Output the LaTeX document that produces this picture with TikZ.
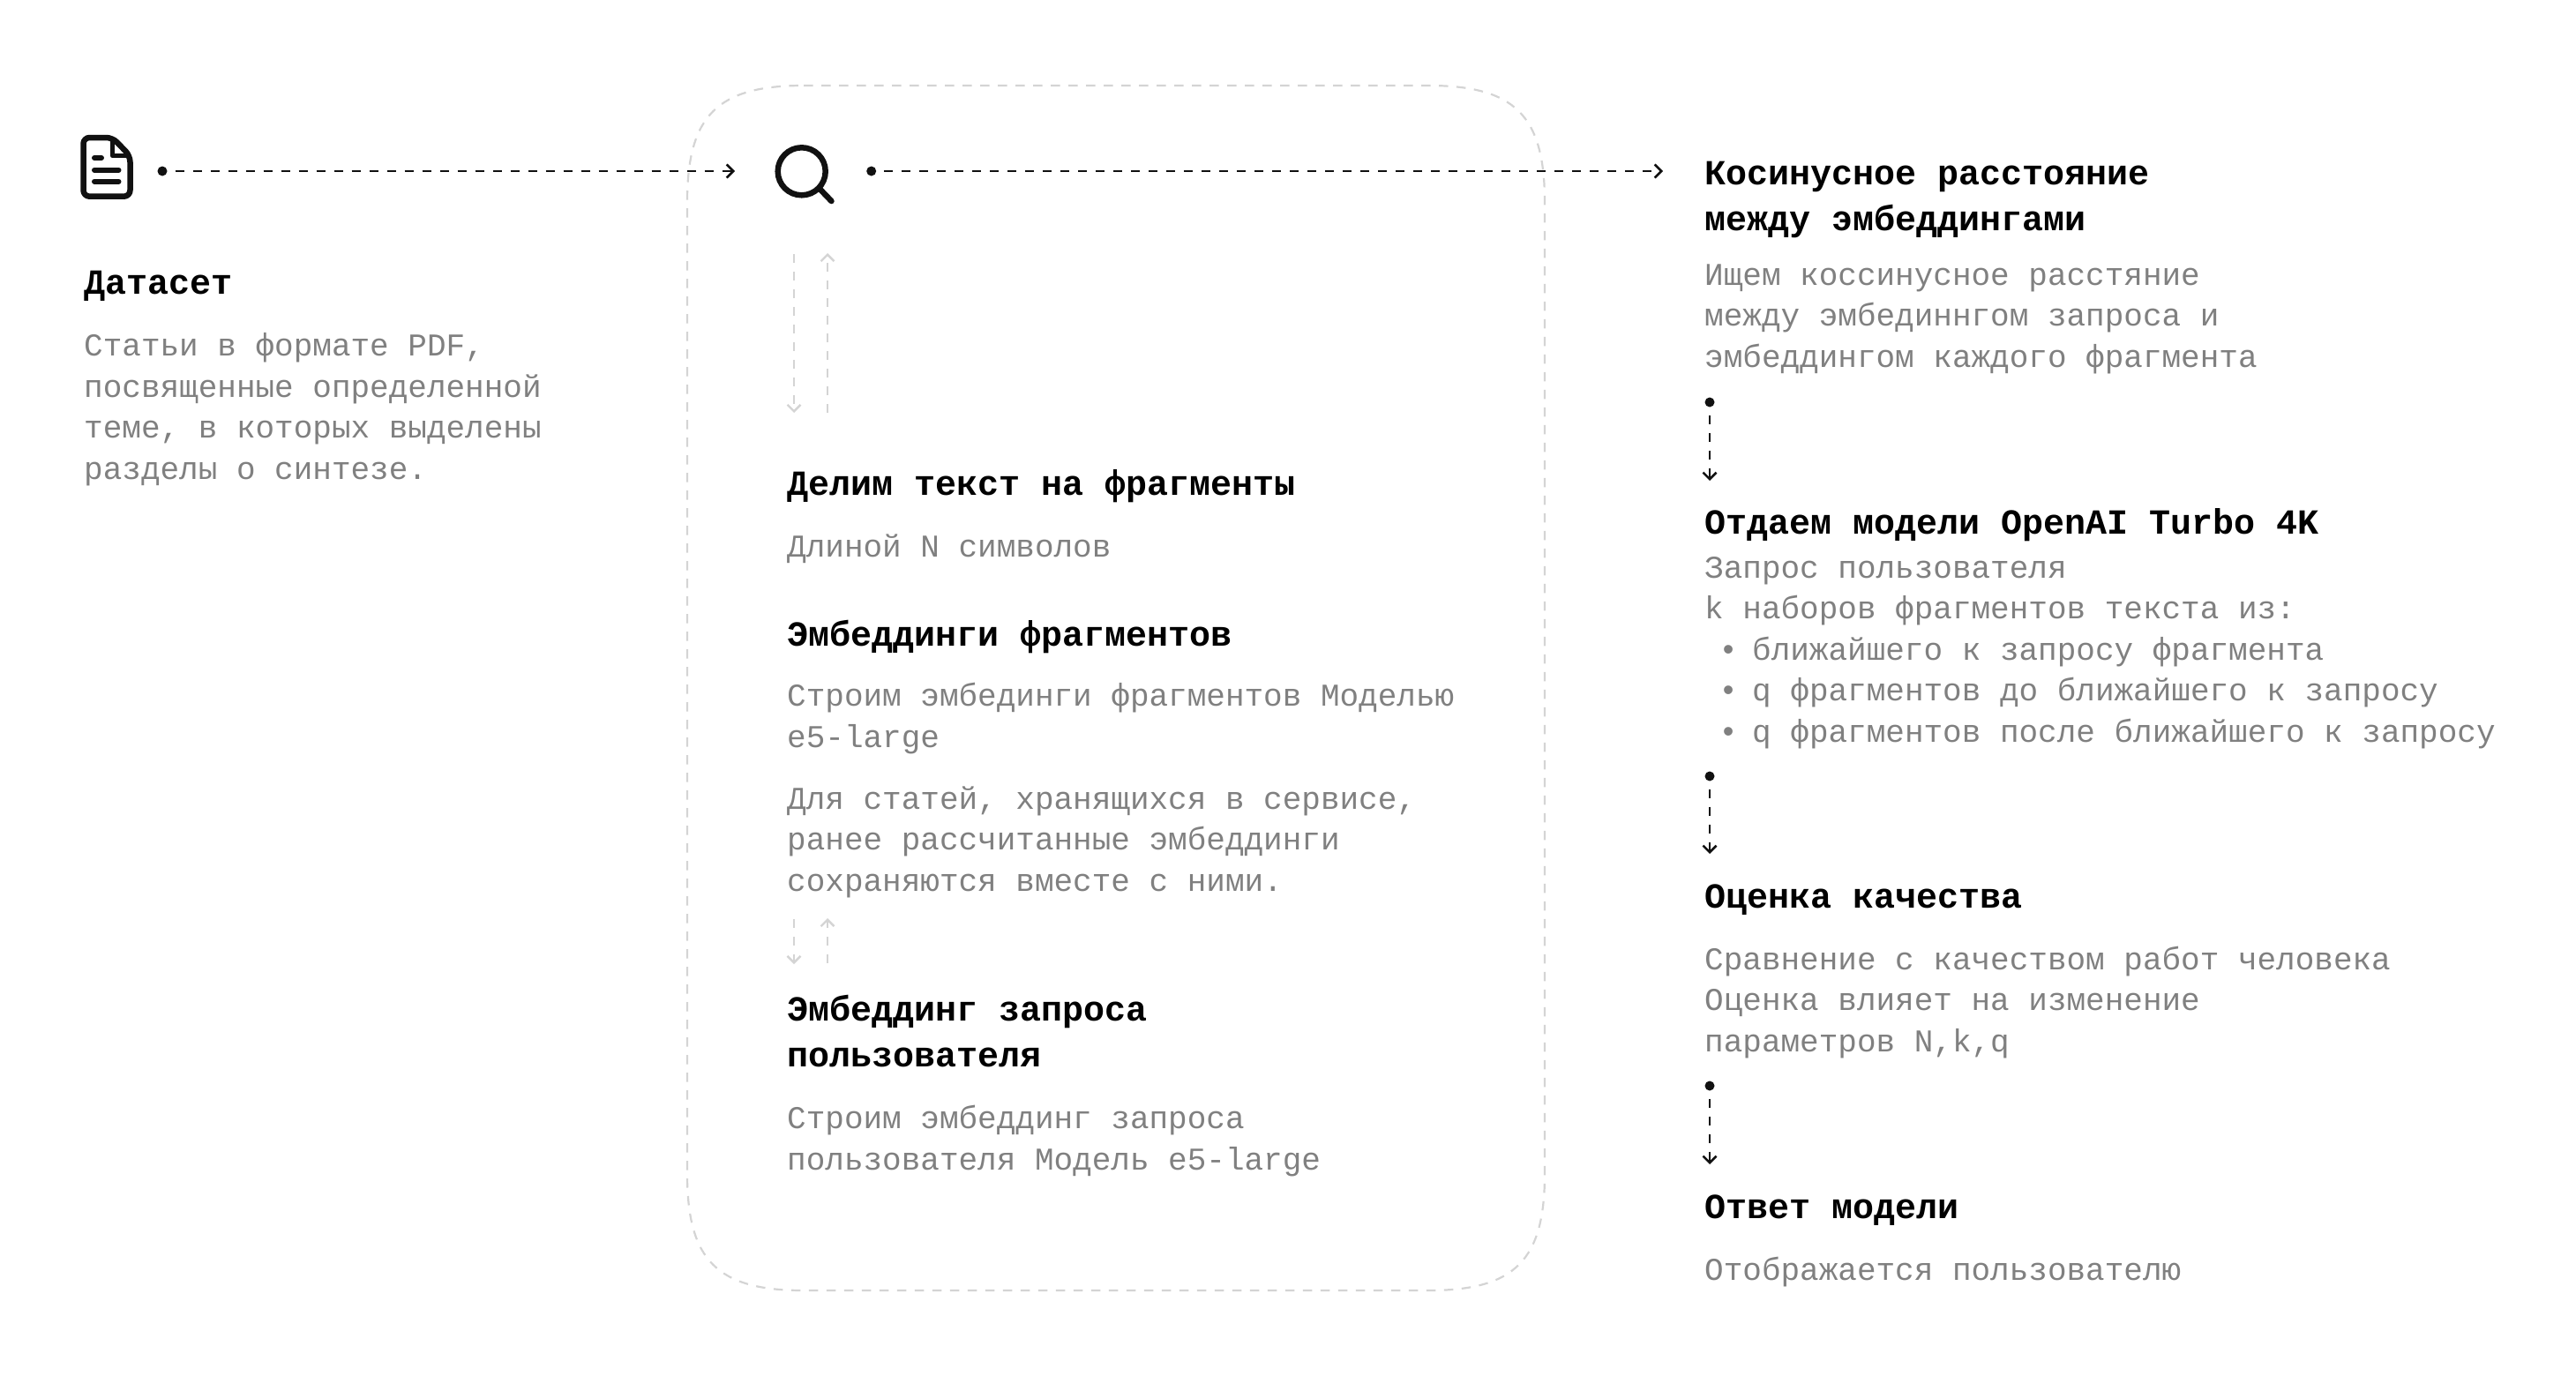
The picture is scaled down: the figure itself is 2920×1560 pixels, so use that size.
\documentclass[tikz,border=0pt]{standalone}
\usepackage{fontspec}
\setmainfont{Liberation Mono}
\usepackage{xcolor}
\usetikzlibrary{arrows.meta,calc,positioning}
\definecolor{ink}{RGB}{17,17,17}
\definecolor{bodygray}{RGB}{128,128,128}
\definecolor{framegray}{RGB}{212,212,212}
\newcommand{\bulletitem}[1]{\hspace*{16pt}\makebox[22pt]{•}\hspace{16pt}#1}
\tikzset{
  headtext/.style={anchor=base west,inner sep=0pt,align=left,text=black,font=\fontsize{40}{52}\selectfont\bfseries\frenchspacing},
  bodytext/.style={anchor=base west,inner sep=0pt,align=left,text=bodygray,font=\fontsize{36}{46.4}\selectfont\frenchspacing},
  dotmark/.style={circle,fill=ink,inner sep=0pt,minimum size=11pt},
  flowline/.style={->,ink,line width=2.6pt,dash pattern=on 10pt off 10pt},
  loopline/.style={->,framegray,line width=2.4pt,dash pattern=on 10pt off 10pt}
}
\begin{document}
\begin{tikzpicture}[x=1pt,y=-1pt,>={Straight Barb[length=7.5pt,width=15pt]}]
  \useasboundingbox (0,0) rectangle (2920,1560);
  \draw[framegray,line width=2.2pt,dash pattern=on 10.5pt off 9.5pt] (911,97) -- (1619,97) .. controls (1717,97) and (1751,131) .. (1751,229) -- (1751,1331) .. controls (1751,1429) and (1717,1463) .. (1619,1463) -- (911,1463) .. controls (813,1463) and (779,1429) .. (779,1331) -- (779,229) .. controls (779,131) and (813,97) .. (911,97) -- cycle;
  % icons
  \draw[ink,line width=6.5pt,line join=round,rounded corners=7pt] (127.5,156) -- (94.5,156) -- (94.5,222.7) -- (147.5,222.7) -- (147.5,176.7) -- cycle;
  \draw[ink,line width=5.5pt,line join=round] (127.5,156) -- (127.5,176.7) -- (147.5,176.7);
  \foreach \y/\xe in {179/115,192.7/134.5,205.7/134.5} \draw[ink,line width=6pt,line cap=round] (107,\y) -- (\xe,\y);
  \draw[ink,line width=6.5pt] (908.7,194.3) circle (27);
  \draw[ink,line width=6.5pt,line cap=round] (930,215) -- (942.5,228);
  % black arrows
  \node[dotmark] (dotA) at (184,194) {};
  \node[dotmark] (dotB) at (987.7,194) {};
  \node[dotmark] (dotC) at (1938,456) {};
  \node[dotmark] (dotD) at (1938,880) {};
  \node[dotmark] (dotE) at (1938,1231) {};
  \coordinate (tipA) at (833,194); \coordinate (tipB) at (1885,194);
  \coordinate (tipC) at (1938,545); \coordinate (tipD) at (1938,968); \coordinate (tipE) at (1938,1320);
  \foreach \p/\q in {dotA/tipA,dotB/tipB,dotC/tipC,dotD/tipD,dotE/tipE} \draw[flowline,shorten <=9pt] (\p) -- (\q);
  % gray arrows
  \coordinate (downA) at (900,288); \coordinate (downB) at (900,468);
  \coordinate (upA) at (938,468); \coordinate (upB) at (938,287);
  \coordinate (downC) at (900,1042); \coordinate (downD) at (900,1093);
  \coordinate (upC) at (938,1092); \coordinate (upD) at (938,1041);
  \foreach \p/\q in {downA/downB,upA/upB,downC/downD,upC/upD} \draw[loopline] (\p) -- (\q);
  % left column
  \node[headtext] (datasetHead) at (95,333) {Датасет};
  \node[bodytext] (datasetBody) at (95,543) {Статьи в формате PDF,\\посвященные определенной\\теме, в которых выделены\\разделы о синтезе.};
  % middle column
  \node[headtext] (splitHead) at (892,561) {Делим текст на фрагменты};
  \node[bodytext] (splitBody) at (892,631) {Длиной N символов};
  \node[headtext] (chunkHead) at (892,732) {Эмбеддинги фрагментов};
  \node[bodytext] (chunkBody) at (892,847) {Строим эмбединги фрагментов Моделью\\e5-large};
  \node[bodytext] (chunkNote) at (892,1010) {Для статей, хранящихся в сервисе,\\ранее рассчитанные эмбеддинги\\сохраняются вместе с ними.};
  \node[headtext] (queryHead) at (892,1209) {Эмбеддинг запроса\\пользователя};
  \node[bodytext] (queryBody) at (892,1326) {Строим эмбеддинг запроса\\пользователя Модель e5-large};
  % right column
  \node[headtext] (cosineHead) at (1932,261) {Косинусное расстояние\\между эмбеддингами};
  \node[bodytext] (cosineBody) at (1932,416) {Ищем коссинусное расстяние\\между эмбединнгом запроса и\\эмбеддингом каждого фрагмента};
  \node[headtext] (modelHead) at (1932,605) {Отдаем модели OpenAI Turbo 4K};
  \node[bodytext] (modelBody) at (1932,841) {Запрос пользователя\\k наборов фрагментов текста из:\\\bulletitem{ближайшего к запросу фрагмента}\\\bulletitem{q фрагментов до ближайшего к запросу}\\\bulletitem{q фрагментов после ближайшего к запросу}};
  \node[headtext] (scoreHead) at (1932,1029) {Оценка качества};
  \node[bodytext] (scoreBody) at (1932,1192) {Сравнение с качеством работ человека\\Оценка влияет на изменение\\параметров N,k,q};
  \node[headtext] (answerHead) at (1932,1381) {Ответ модели};
  \node[bodytext] (answerBody) at (1932,1451) {Отображается пользователю};
\end{tikzpicture}
\end{document}
